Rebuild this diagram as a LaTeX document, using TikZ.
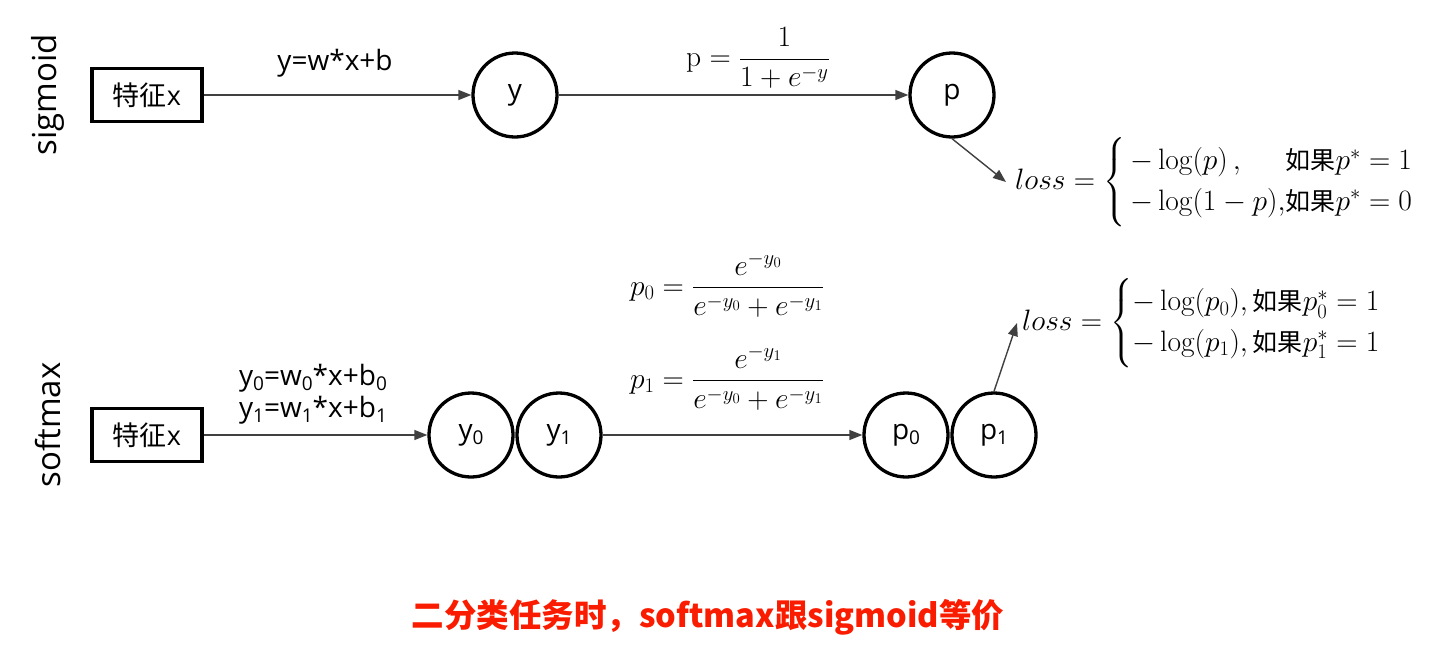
\RequirePackage{fix-cm}
\documentclass[tikz,border=0pt]{standalone}
\usepackage{amsmath}
\usepackage{fontspec}
\newfontfamily\cjk{Noto Sans CJK SC}
\newfontfamily\lat{Open Sans}
\usetikzlibrary{arrows.meta}
\definecolor{arr}{RGB}{64,64,64}
\definecolor{hl}{RGB}{250,28,0}
\newcommand{\sbs}[1]{\raisebox{-0.35ex}{\fontsize{19}{19}\selectfont #1}}
\newcommand{\zh}[1]{\text{\cjk\fontsize{25}{28}\selectfont #1}}
\tikzset{
  feat/.style={draw, line width=3.3pt, minimum width=110pt, minimum height=53pt, inner sep=0pt, font=\lat\fontsize{27}{32}\selectfont},
  neuron/.style={circle, draw, line width=3.3pt, minimum size=84pt, inner sep=0pt, font=\lat\fontsize{28}{32}\selectfont},
  conn/.style={draw=arr, line width=1.4pt, -{Triangle[length=13pt,width=10pt]}},
  side/.style={rotate=90, inner sep=0pt, font=\lat\fontsize{33}{36}\selectfont},
  lbl/.style={inner sep=0pt, align=left, font=\lat\fontsize{28}{32}\selectfont},
  eq/.style={inner sep=0pt, font=\fontsize{29.5}{34}\selectfont},
  note/.style={inner sep=0pt, text=hl, font=\cjk\bfseries\fontsize{32.5}{36}\selectfont}
}
\begin{document}
\begin{tikzpicture}[x=1pt,y=-1pt]
\path[use as bounding box] (0,0) rectangle (1432,649);
% sigmoid row
\node[side] (sg) at (48,95) {sigmoid};
\node[feat] (f1) at (147,95) {{\cjk 特征}x};
\node[neuron] (y) at (515,95) {y};
\node[neuron] (p) at (952,95) {p};
\draw[conn] (f1) -- (y);
\draw[conn] (y) -- (p);
\node[lbl] (l1) at (335,63) {y=w*x+b};
\node[eq] (e1) at (758,58) {$\mathrm{p}=\dfrac{1}{1+e^{-y}}$};
\node[eq, anchor=west] (loss1) at (1015,182) {\renewcommand{\arraystretch}{1.2}$loss=\left\{\begin{array}{@{\,}l@{}r@{}}-\log(p)\,, & \zh{如果}p^*=1\\ {-\log}(1-p), & \zh{如果}p^*=0\end{array}\right.$};
\draw[conn] (p.south) -- ([xshift=-9pt]loss1.west);
% softmax row
\node[side] (sm) at (48,425) {softmax};
\node[feat] (f2) at (147,435) {{\cjk 特征}x};
\node[neuron] (y0) at (471,435) {y\sbs{0}};
\node[neuron] (y1) at (559,435) {y\sbs{1}};
\node[neuron] (p0) at (906,435) {p\sbs{0}};
\node[neuron] (p1) at (994,435) {p\sbs{1}};
\draw[conn] (f2) -- (y0);
\draw[conn] (y1) -- (p0);
\node[lbl] (l2) at (313,394) {y\sbs{0}=w\sbs{0}*x+b\sbs{0}\\y\sbs{1}=w\sbs{1}*x+b\sbs{1}};
\node[eq] (e2) at (727,285) {$p_0=\dfrac{e^{-y_0}}{e^{-y_0}+e^{-y_1}}$};
\node[eq] (e3) at (727,378) {$p_1=\dfrac{e^{-y_1}}{e^{-y_0}+e^{-y_1}}$};
\node[eq, anchor=west] (loss2) at (1022,323) {$loss=\begin{cases}-\log(p_0),\zh{如果}p_0^*=1\\ {-\log}(p_1),\zh{如果}p_1^*=1\end{cases}$};
\draw[conn] (p1.north) -- ([xshift=-5pt]loss2.west);
% note
\node[note] (nt) at (708,617) {二分类任务时，softmax跟sigmoid等价};
\end{tikzpicture}
\end{document}
